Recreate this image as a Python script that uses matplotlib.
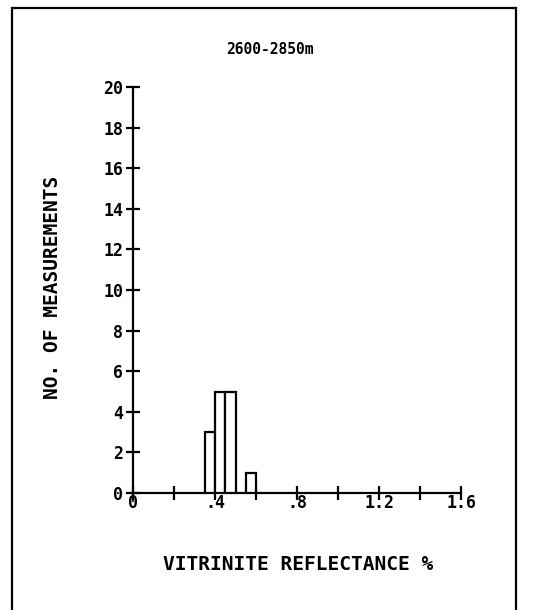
import matplotlib.pyplot as plt
from matplotlib.patches import Rectangle
import numpy as np

# histogram bins (left edges) and counts
binLeft = [0.35, 0.40, 0.45, 0.55]
binWidth = 0.05
counts = [3, 5, 5, 1]

title = '2600-2850m'
xTicks = [0, 0.4, 0.8, 1.2, 1.6]
xTickLabels = ['0', '.4', '.8', '1.2', '1.6']
yTicks = list(range(0, 21, 2))

plt.rcParams['font.family'] = ['DejaVu Sans Mono']
plt.rcParams['font.weight'] = 'bold'

fig = plt.figure(figsize=(5.49, 6.10), dpi=100)
ax = fig.add_axes([133 / 549, 117 / 610, 328 / 549, 406 / 610])

ax.bar(binLeft, counts, width=binWidth, align='edge', facecolor='white',
       edgecolor='black', linewidth=1.6, zorder=3)

ax.set_xlim(0, 1.6)
ax.set_ylim(0, 20)
for s in ['top', 'right']:
    ax.spines[s].set_visible(False)
for s in ['left', 'bottom']:
    ax.spines[s].set_linewidth(1.6)

ax.set_xticks(xTicks)
ax.set_xticklabels(xTickLabels)
ax.set_xticks(np.arange(0.2, 1.6, 0.4), minor=True)
ax.set_yticks(yTicks)
ax.tick_params(axis='both', which='both', direction='inout', length=10, width=1.6)
ax.tick_params(axis='x', which='major', labelsize=12, pad=-4)
ax.tick_params(axis='y', labelsize=12, pad=2)

fig.text(270 / 549, 1 - 50 / 610, title, ha='center', va='center', fontsize=10.5,
         fontweight='bold')
fig.text(298 / 549, 1 - 565 / 610, 'VITRINITE REFLECTANCE %', ha='center',
         va='center', fontsize=14, fontweight='bold')
fig.text(53 / 549, 1 - 287 / 610, 'NO. OF MEASUREMENTS', ha='center',
         va='center', rotation=90, fontsize=14, fontweight='bold')

# outer frame
fig.patches.append(Rectangle((12 / 549, -0.05), 504 / 549, 1.05 - 8 / 610,
                             transform=fig.transFigure, fill=False,
                             edgecolor='black', linewidth=1.6))

fig.savefig('out.png', dpi=100)
